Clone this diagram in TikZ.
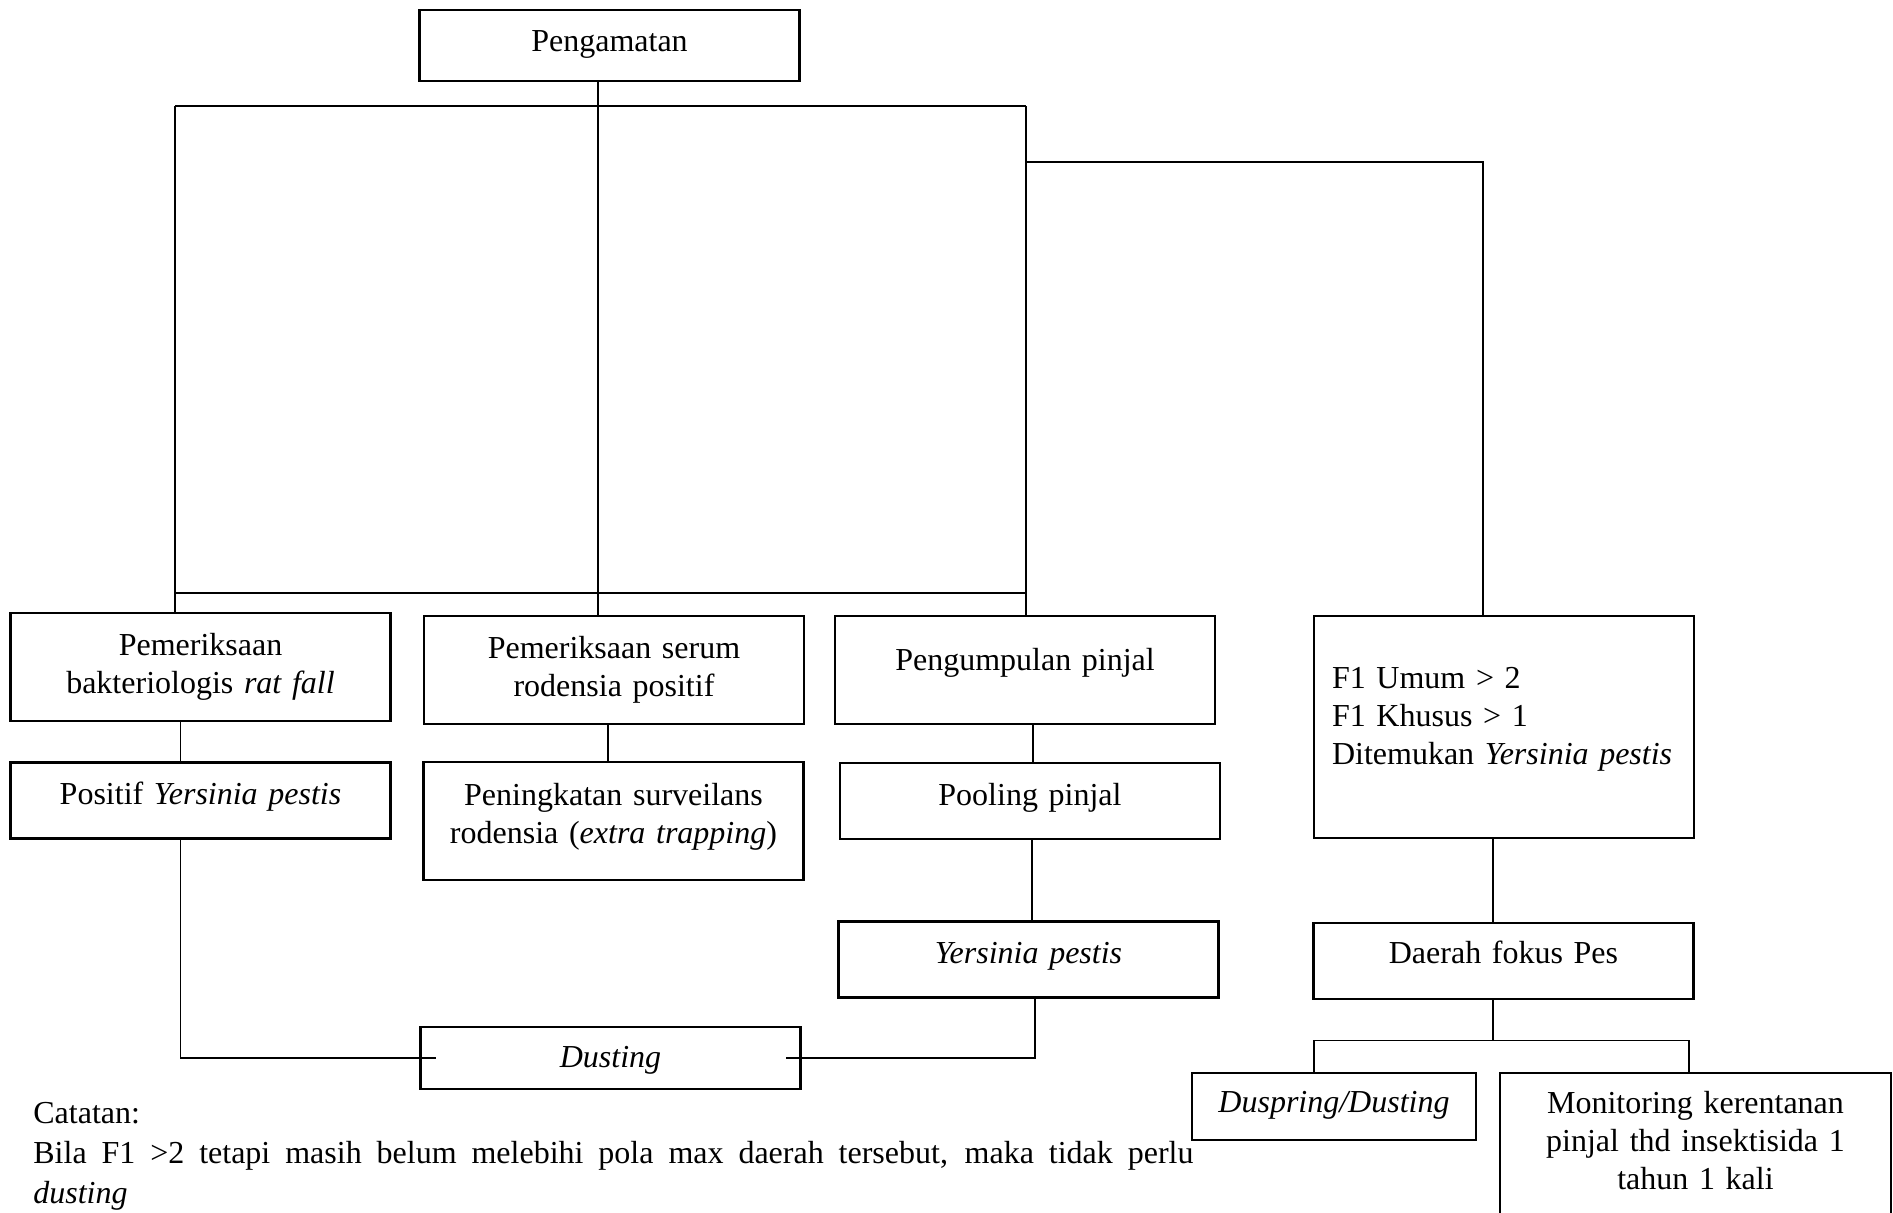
\documentclass[tikz,border=0pt]{standalone}
\usepackage{fontspec}
\setmainfont{Liberation Serif}
\usepackage{tikz}
\usetikzlibrary{positioning}
\setlength{\parindent}{0pt}
\tikzstyle{stage} = [draw, line width=1.1pt, text centered, text width=180pt, minimum width=190pt, minimum height=38pt, inner sep=3pt, text depth=7pt, font=\fontsize{16}{19}\selectfont]
\tikzstyle{test} = [stage, minimum height=54pt, text depth=22.5pt]
\tikzstyle{finding} = [draw, line width=1.1pt, align=left, text width=172pt, minimum width=190pt, minimum height=111pt, inner xsep=9pt, inner ysep=3pt, text depth=49pt, font=\fontsize{16}{19}\selectfont]
\tikzstyle{action} = [stage, minimum height=31pt, text depth=1pt]
\tikzstyle{line} = [draw, line width=0.6pt]
\tikzstyle{bar} = [draw, line width=0.9pt]
\tikzstyle{note} = [text width=580pt, align=justify, inner sep=0pt, anchor=north west, font=\fontsize{16}{20}\selectfont]
\newcommand{\obsbox}[2]{node (r#1) [stage, minimum height=35.5pt, text depth=4.5pt] {#2}}
\newcommand{\testbox}[3]{node (t#1) [test,#2] {#3}}
\newcommand{\findbox}[2]{node (f#1) [finding] {#2}}
\newcommand{\stepbox}[3]{node (s#1) [stage,#2] {#3}}
\newcommand{\actbox}[3]{node (a#1) [action,#2] {#3}}

\begin{document}
\begin{tikzpicture}[x=0.5pt,y=0.5pt]
\useasboundingbox (0,0) rectangle (1893,-1212);
\path (609.5,-45.5) \obsbox{1}{Pengamatan};

\path (r1)+(-409,-621.5) \testbox{1}{}{Pemeriksaan\\ bakteriologis \textit{rat fall}};
\path (t1)+(413.5,-3) \testbox{2}{}{Pemeriksaan serum\\ rodensia positif};
\path (t2)+(411,0) \testbox{3}{text depth=11pt}{Pengumpulan pinjal};
\path (t3)+(479,-57) \findbox{1}{F1 Umum > 2\\ F1 Khusus > 1\\ Ditemukan \textit{Yersinia pestis}};

\path (t1)+(0,-133.5) \stepbox{1}{}{Positif \textit{Yersinia pestis}};
\path (t2)+(-0.5,-151) \stepbox{2}{minimum height=59pt, text depth=27pt}{Peningkatan surveilans\\ rodensia (\textit{extra trapping})};
\path (t3)+(5,-131) \stepbox{3}{}{Pooling pinjal};
\path (s3)+(-1.5,-158.5) \stepbox{4}{}{\textit{Yersinia pestis}};
\path (f1)+(-0.5,-234) \stepbox{5}{text depth=9pt}{Daerah fokus Pes};

\path (s2)+(-3,-237) \actbox{1}{}{\textit{Dusting}};
\path (s5)+(-169.5,-145.5) \actbox{2}{text width=130pt, minimum width=142pt, minimum height=33.5pt, text depth=5pt}{\textit{Duspring/Dusting}};
\path (s5)+(192,-184.5) \actbox{3}{minimum width=195.5pt, minimum height=72.5pt, text depth=42.8pt}{Monitoring kerentanan\\ pinjal thd insektisida 1\\ tahun 1 kali};

\node (note) [note] at (33,-1102) {Catatan:\par Bila F1 >2 tetapi masih belum melebihi pola max daerah tersebut, maka tidak perlu\linebreak \textit{dusting}};

% bracket below Pengamatan
\path [bar] (175,-106) coordinate (nw) -- (1026,-106) coordinate (ne);
\path [bar] (175,-593) -- (1026,-593);
\path [line] (nw) -- (nw |- t1.north);
\path [line] (ne) -- (ne |- t3.north);
\path [line] ([xshift=-8pt]t2.north) |- ([xshift=-5.75pt]r1.south);
\path [bar] (1026,-162) coordinate (fork) -| ([xshift=-10.5pt]f1.north);

\path [line] ([xshift=-10pt]t1.south) -- ([xshift=-10pt]s1.north);
\path [line] ([xshift=-3pt]t2.south) -- ([xshift=-2.75pt]s2.north);
\path [line] ([xshift=4pt]t3.south) -- ([xshift=1.5pt]s3.north);
\path [line] ([xshift=1pt]s3.south) -- ([xshift=1.75pt]s4.north);
\path [line] ([xshift=-5.5pt]f1.south) -- ([xshift=-5.25pt]s5.north);

% to dusting
\path [line] ([xshift=-10pt]s1.south) |- ([xshift=8.5pt]a1.west);
\path [line] ([xshift=3.25pt]s4.south) |- ([xshift=-8pt]a1.east);

% split under Daerah fokus Pes
\path [line] ([xshift=-5.25pt]s5.south) -- ++(0,-40) coordinate (split);
\path [line] ([xshift=-10pt]a2.north) |- (split);
\path [line] ([xshift=-3.25pt]a3.north) |- (split);
\end{tikzpicture}
\end{document}
